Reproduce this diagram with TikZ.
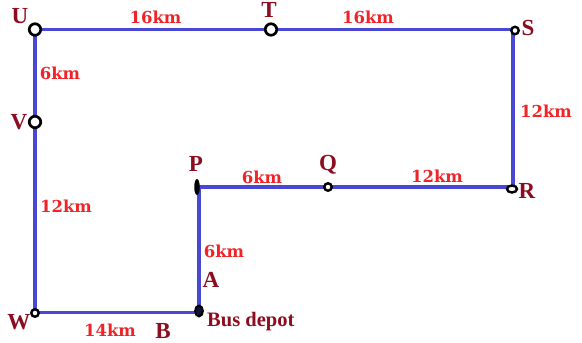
\documentclass[tikz,border=0pt]{standalone}
\usepackage{fontspec}
\setmainfont{Liberation Serif}
\newfontfamily\kmfont{DejaVu Serif}
\usetikzlibrary{shapes.geometric}
\definecolor{routeblue}{RGB}{72,72,212}
\definecolor{kmred}{RGB}{238,36,40}
\definecolor{lettermaroon}{RGB}{140,12,32}
\tikzset{
  route/.style={draw=routeblue, line width=3.3pt},
  bigstop/.style={circle, draw=black, fill=white, line width=2.7pt, minimum size=11.5pt, inner sep=0pt},
  smallstop/.style={circle, draw=black, fill=white, line width=2.4pt, minimum size=7.5pt, inner sep=0pt},
  pstop/.style={ellipse, fill=black, minimum width=5.5pt, minimum height=16pt, inner sep=0pt},
  depotstop/.style={ellipse, draw=black, fill=black!75!routeblue, line width=1.8pt, minimum width=8pt, minimum height=11pt, inner sep=0pt},
  rstop/.style={ellipse, draw=black, fill=white, line width=2.4pt, minimum width=10pt, minimum height=7pt, inner sep=0pt},
  kmlabel/.style={text=kmred, font=\kmfont\bfseries\fontsize{16.5}{18}\selectfont, inner sep=0pt},
  letter/.style={text=lettermaroon, font=\bfseries\fontsize{23}{25}\selectfont, inner sep=0pt},
  depotlabel/.style={text=lettermaroon, font=\bfseries\fontsize{20.5}{22}\selectfont, inner sep=0pt}
}
\begin{document}
\begin{tikzpicture}[x=1pt, y=-1pt]
\useasboundingbox (0,0) rectangle (582,343);
% positions
\coordinate (u) at (35,29.5);
\coordinate (t) at (271,29.5);
\coordinate (s) at (513,29.5);
\coordinate (r) at (513,187);
\coordinate (q) at (328,187);
\coordinate (p) at (199,187);
\coordinate (d) at (199,312.5);
\coordinate (w) at (35,312.5);
\coordinate (v) at (35,122);
% route
\draw[route, line join=miter] (u) -- (t) -- (s) -- (r) -- (q) -- (p) -- (d) -- (w) -- (v) -- cycle;
% stops
\node[bigstop] (U) at (u) {};
\node[bigstop] (T) at (t) {};
\node[bigstop] (V) at (v) {};
\node[smallstop] (S) at (515,30.5) {};
\node[rstop] (R) at (512,189) {};
\node[smallstop] (Q) at (q) {};
\node[pstop] (P) at (197,187) {};
\node[depotstop] (D) at (199,311) {};
\node[smallstop] (W) at (35,313) {};
% letters
\node[letter] (lu) at (20,16) {U};
\node[letter] (lt) at (269,10) {T};
\node[letter] (ls) at (528,28) {S};
\node[letter] (lv) at (19,122) {V};
\node[letter] (lr) at (527,191) {R};
\node[letter] (lp) at (196,163.5) {P};
\node[letter] (lq) at (328,165) {Q};
\node[letter] (la) at (211,280) {A};
\node[letter] (lw) at (19,322) {W};
\node[letter] (lb) at (163,331.5) {B};
\node[depotlabel, anchor=base west] (ld) at (207,326.5) {Bus depot};
% distances
\node[kmlabel] (k1) at (155.5,17) {16km};
\node[kmlabel] (k2) at (368,17) {16km};
\node[kmlabel] (k3) at (60,73) {6km};
\node[kmlabel] (k4) at (546,111) {12km};
\node[kmlabel] (k5) at (66,206) {12km};
\node[kmlabel] (k6) at (262,177) {6km};
\node[kmlabel] (k7) at (437,176) {12km};
\node[kmlabel] (k8) at (224,251) {6km};
\node[kmlabel] (k9) at (110,330) {14km};
\end{tikzpicture}
\end{document}
